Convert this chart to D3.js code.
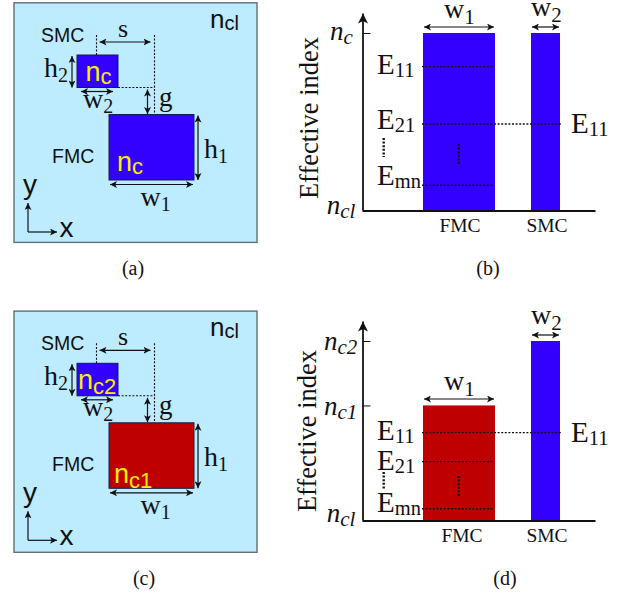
<!DOCTYPE html>
<html>
<head>
  <meta charset="utf-8">
  <script src="https://cdnjs.cloudflare.com/ajax/libs/d3/7.8.5/d3.min.js"></script>
  <style>
    html, body { margin: 0; background: #fff; }
    svg { display: block; }
    text { font-family: "Liberation Serif", serif; fill: #111; }
    .sans { font-family: "Liberation Sans", sans-serif; }
  </style>
</head>
<body>
<svg id="chart" width="628" height="593"></svg>
<script>
  var categories = ['FMC', 'SMC'];
  var barStart = [61, 169];
  var barWidth = [72, 29];
  var indexB = [1, 1];
  var indexD = [0.64, 1];
  var tickB = [0, 1];
  var tickD = [0, 0.64, 1];
  var modesB = [0.81, 0.486, 0.14];
  var modesD = [0.488, 0.326, 0.063];
  var modeNames = ['11', '21', 'mn'];

  // waveguide geometry for panels a and c, in picture units
  var coreW = [85, 41];
  var coreH = [65.5, 32.5];
  var sep = 58;
  var gap = 27;

  var BLUE = '#3300ff', RED = '#bf0000', YELLOW = '#ffee00', CLAD = '#bdebff';

  var svg = d3.select('#chart');
  var defs = svg.append('defs');
  function marker(id, w, h) {
    defs.append('marker').attr('id', id).attr('viewBox', '0 0 10 10')
      .attr('refX', 10).attr('refY', 5)
      .attr('markerUnits', 'userSpaceOnUse')
      .attr('markerWidth', w).attr('markerHeight', h)
      .attr('orient', 'auto-start-reverse')
      .append('path').attr('d', 'M0,0L10,5L0,10L2.5,5z').attr('fill', '#111');
  }
  marker('head', 7, 7);
  marker('big', 10, 10);

  // text with an optional subscript
  function label(g, x, y, main, sub, size, opts) {
    opts = opts || {};
    var t = g.append('text').attr('x', x).attr('y', y)
      .attr('font-size', size)
      .attr('text-anchor', opts.anchor || 'start');
    if (opts.sans) t.attr('class', 'sans');
    if (opts.italic) t.attr('font-style', 'italic');
    if (opts.fill) t.style('fill', opts.fill);
    t.append('tspan').text(main);
    if (sub) {
      t.append('tspan').attr('dy', opts.drop || size * 0.22)
        .attr('font-size', opts.subSize || size * 0.76).text(sub);
    }
    return t;
  }

  function arrow(g, x1, y1, x2, y2, both) {
    var l = g.append('line').attr('x1', x1).attr('y1', y1).attr('x2', x2).attr('y2', y2)
      .attr('stroke', '#111').attr('stroke-width', 1.2)
      .attr('marker-end', 'url(#head)');
    if (both !== false) l.attr('marker-start', 'url(#head)');
  }

  function dashed(g, x1, y1, x2, y2, w) {
    g.append('line').attr('x1', x1).attr('y1', y1).attr('x2', x2).attr('y2', y2)
      .attr('stroke', '#111').attr('stroke-width', w || 1.1)
      .attr('stroke-dasharray', '2,1.6');
  }

  function schematic(cfg) {
    var g = svg.append('g').attr('transform', 'translate(0,' + cfg.dy + ')');
    var x = d3.scaleLinear().domain([0, 243]).range([14, 257]);
    var y = d3.scaleLinear().domain([0, 240]).range([2.8, 2.8 + cfg.h]);

    g.append('rect').attr('x', x(0)).attr('y', y(0))
      .attr('width', x(243) - x(0)).attr('height', y(240) - y(0))
      .attr('fill', CLAD).attr('stroke', '#5f6f76').attr('stroke-width', 1.4);

    // cores hang off the FMC corner through the gap and the separation
    var fmcLeft = 95, fmcTop = 111.7;
    var smcLeft = fmcLeft + coreW[0] / 2 - sep - coreW[1] / 2 + 4;
    var smcTop = fmcTop - gap - coreH[1];
    var cores = [
      { l: fmcLeft, t: fmcTop, w: coreW[0], h: coreH[0], c: cfg.colors[0] },
      { l: smcLeft, t: smcTop, w: coreW[1], h: coreH[1], c: cfg.colors[1] }
    ];
    g.selectAll('rect.core').data(cores).enter().append('rect').attr('class', 'core')
      .attr('x', function(d) { return x(d.l); })
      .attr('y', function(d) { return y(0) + d.t; })
      .attr('width', function(d) { return d.w; })
      .attr('height', function(d) { return d.h; })
      .attr('fill', function(d) { return d.c; })
      .attr('stroke', '#10204a').attr('stroke-width', 1);

    var top = 2.8;
    var fl = x(fmcLeft), fr = fl + coreW[0], ft = top + fmcTop, fb = ft + coreH[0];
    var sl = x(smcLeft), sr = sl + coreW[1], st = top + smcTop, sb = st + coreH[1];
    var sc = (sl + sr) / 2 - 1, fc = sc + sep;

    dashed(g, sc, 35, sc, st);
    dashed(g, fc, 35, fc, ft);
    dashed(g, sr, sb, fc, sb);
    arrow(g, sc + 3, 42, fc - 4, 42);
    arrow(g, fc - 7, sb + 2, fc - 7, ft - 0.5);
    arrow(g, sl - 5, st + 1, sl - 5, sb);
    arrow(g, sl + 4, 91.5, sr - 5, 91.5);
    arrow(g, fr + 4, ft + 1, fr + 4, fb);
    arrow(g, fl + 1, fb + 4.5, fr - 1, fb + 4.5);

    label(g, 210, 27.5, 'n', 'cl', 26, { sans: true, subSize: 20, drop: 2 });
    label(g, 41, 42, 'SMC', null, 19.5, { sans: true });
    label(g, 52, 163, 'FMC', null, 19.5, { sans: true });
    label(g, 118, 37, 's', null, 26);
    label(g, 159, 106, 'g', null, 27);
    label(g, 44, 77, 'h', '2', 28, { subSize: 20, drop: 5 });
    label(g, 83, 108, 'w', '2', 28, { subSize: 20, drop: 5 });
    label(g, 204, 158, 'h', '1', 28, { subSize: 20, drop: 5 });
    label(g, 140.5, 206, 'w', '1', 28, { subSize: 20, drop: 5 });

    label(g, cfg.smcX, cfg.smcY, 'n', cfg.smcSub, 27, { sans: true, fill: YELLOW, subSize: 22, drop: cfg.coreDrop });
    label(g, cfg.fmcX, cfg.fmcY, 'n', cfg.fmcSub, 27, { sans: true, fill: YELLOW, subSize: 22, drop: cfg.coreDrop });

    // coordinate axes in the corner
    var ax = g.append('g');
    ax.append('line').attr('x1', 28).attr('y1', 232).attr('x2', 28).attr('y2', 203)
      .attr('stroke', '#111').attr('stroke-width', 1.2).attr('marker-end', 'url(#head)');
    ax.append('line').attr('x1', 28).attr('y1', 232).attr('x2', 57).attr('y2', 232)
      .attr('stroke', '#111').attr('stroke-width', 1.2).attr('marker-end', 'url(#head)');
    label(g, 23, 194, 'y', null, 28, { sans: true });
    label(g, 59.5, 237, 'x', null, 28, { sans: true });

    label(svg, cfg.capX, cfg.capY, cfg.caption, null, 20, { anchor: 'middle' });
  }

  function indexPanel(cfg) {
    var g = svg.append('g');
    var x = d3.scaleLinear().domain([0, 233]).range([362, 595]);
    var y = d3.scaleLinear().domain([0, 1]).range([cfg.base, cfg.top]);
    var yAxisTop = cfg.top - 20;

    var bars = categories.map(function(c, i) {
      return { name: c, start: barStart[i], w: barWidth[i], v: cfg.values[i], color: cfg.colors[i] };
    });
    g.selectAll('rect').data(bars).enter().append('rect')
      .attr('x', function(d) { return x(d.start); })
      .attr('y', function(d) { return y(d.v); })
      .attr('width', function(d) { return x(d.start + d.w) - x(d.start); })
      .attr('height', function(d) { return y(0) - y(d.v); })
      .attr('fill', function(d) { return d.color; });

    var yAxis = d3.axisRight(d3.scaleLinear().domain([0, y.invert(yAxisTop)]).range([cfg.base, yAxisTop]))
      .tickValues(cfg.ticks).tickSize(8).tickSizeOuter(0).tickFormat('');
    var ya = g.append('g').attr('transform', 'translate(362.5,0)').call(yAxis);
    ya.select('.domain').attr('stroke', '#111').attr('stroke-width', 1.8).attr('marker-end', 'url(#big)');
    ya.selectAll('.tick line').attr('stroke', '#111');

    var xAxis = d3.axisBottom(x).tickValues([]).tickSize(0);
    var xa = g.append('g').attr('transform', 'translate(0,' + (cfg.base + 0.5) + ')').call(xAxis);
    xa.select('.domain').attr('stroke', '#111').attr('stroke-width', 1.8);

    // mode lines, the one shared with the SMC runs across
    cfg.modes.forEach(function(m, i) {
      var end = (i === cfg.shared) ? x(barStart[1] + barWidth[1]) + 1 : x(barStart[0] + barWidth[0]) - 2;
      dashed(g, x(barStart[0]) - 1, y(m), end, y(m), 1.4);
      label(g, 377, y(m) + cfg.modeDrop[i], 'E', modeNames[i], 29, { subSize: 20.5, drop: 3 });
    });
    label(g, 571, y(cfg.modes[cfg.shared]) + cfg.rightDrop, 'E', '11', 29, { subSize: 20.5, drop: 3 });

    dashed(g, 383.7, cfg.leftDots[0], 383.7, cfg.leftDots[1], 2.4);
    dashed(g, 458.7, cfg.midDots[0], 458.7, cfg.midDots[1], 2.4);

    arrow(g, x(barStart[0]) + 1, cfg.w1Y, x(barStart[0] + barWidth[0]) - 1, cfg.w1Y);
    arrow(g, x(barStart[1]) + 1, cfg.w2Y, x(barStart[1] + barWidth[1]) - 1, cfg.w2Y);
    label(g, 444, cfg.w1Y - 9, 'w', '1', 28, { subSize: 21, drop: 6 });
    label(g, 531, cfg.w2Y - 11, 'w', '2', 28, { subSize: 21, drop: 6 });

    label(g, cfg.fmcX, cfg.catY, categories[0], null, 19.5, { anchor: 'middle' });
    label(g, 547, cfg.catY, categories[1], null, 19.5, { anchor: 'middle' });

    cfg.tickLabels.forEach(function(t) {
      label(g, t.x, y(t.v) + t.dy, 'n', t.sub, 27, { italic: true, subSize: 21, drop: 4 });
    });

    g.append('text').attr('transform', 'translate(' + cfg.titleX + ',' + cfg.titleY + ') rotate(-90)')
      .attr('text-anchor', 'middle').attr('font-size', 26.5).text('Effective index');

    label(svg, cfg.capX, cfg.capY, cfg.caption, null, 20, { anchor: 'middle' });
  }

  schematic({ dy: 0, h: 239.6, colors: [BLUE, BLUE], caption: '(a)', capX: 133, capY: 275, coreDrop: 3,
    smcX: 85.5, smcY: 80.5, smcSub: 'c', fmcX: 117, fmcY: 171, fmcSub: 'c' });
  schematic({ dy: 308.3, h: 241.2, colors: [RED, BLUE], caption: '(c)', capX: 144, capY: 585, coreDrop: 5,
    smcX: 78, smcY: 81, smcSub: 'c2', fmcX: 114, fmcY: 175, fmcSub: 'c1' });

  indexPanel({ base: 210, top: 33, values: indexB, colors: [BLUE, BLUE], ticks: [1], modes: modesB, shared: 1,
    modeDrop: [7, 5, 0], rightDrop: 9, leftDots: [138, 157], midDots: [144, 164],
    w1Y: 27, w2Y: 27, fmcX: 460, catY: 232, titleX: 318, titleY: 118,
    tickLabels: [{ v: tickB[1], x: 330, dy: 7, sub: 'c' }, { v: tickB[0], x: 326.7, dy: 3.5, sub: 'cl' }],
    caption: '(b)', capX: 488, capY: 275 });
  indexPanel({ base: 520, top: 341, values: indexD, colors: [RED, BLUE], ticks: tickD.slice(1), modes: modesD, shared: 0,
    modeDrop: [7, 8, 3.5], rightDrop: 9, leftDots: [472, 490], midDots: [476, 496],
    w1Y: 399, w2Y: 335, fmcX: 462, catY: 542, titleX: 316, titleY: 431,
    tickLabels: [{ v: tickD[2], x: 324, dy: 9, sub: 'c2' }, { v: tickD[1], x: 324, dy: 10, sub: 'c1' }, { v: tickD[0], x: 326.7, dy: 2, sub: 'cl' }],
    caption: '(d)', capX: 505, capY: 585 });
</script>
</body>
</html>
